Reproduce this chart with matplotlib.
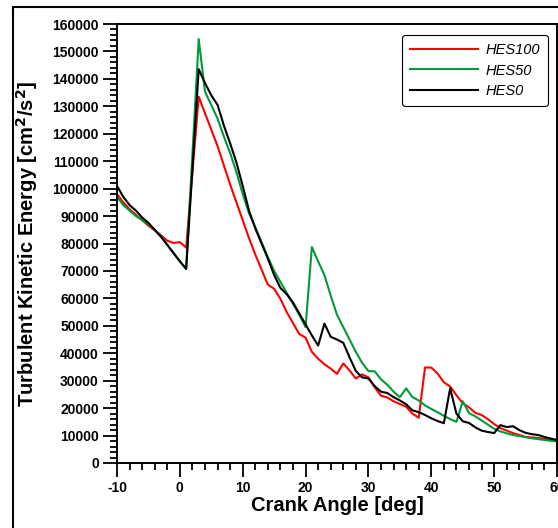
import matplotlib
matplotlib.use("Agg")
import matplotlib.pyplot as plt
from matplotlib.ticker import MultipleLocator
from matplotlib.patches import Rectangle

plt.rcParams['font.family'] = ['Liberation Sans', 'DejaVu Sans']
plt.rcParams['axes.unicode_minus'] = False

angles = [-10, -9, -8, -7, -6, -5, -4, -3, -2, -1, 0, 1,
          3, 4, 5, 6, 7, 8, 9, 10, 11, 12, 13, 14, 15, 16, 17, 18, 19, 20,
          21, 22, 23, 24, 25, 26, 27, 28, 29, 30, 31, 32, 33, 34, 35, 36, 37, 38, 39, 40,
          41, 42, 43, 44, 45, 46, 47, 48, 49, 50, 51, 52, 53, 54, 55, 56, 57, 58, 59, 60]

hes100 = [98000, 95000, 92500, 90500, 88500, 86500, 84800, 83000, 81000, 80200, 80500, 78500,
          133500, 127500, 121500, 115500, 108500, 101500, 95000, 88500, 82000, 76000, 70500, 65000, 63500,
          59800, 55000, 51000, 47000, 45700, 40500, 38000, 36000, 34400, 32500, 36300, 33700, 30800, 32300, 31200,
          27600, 24500, 23900, 22500, 21500, 20500, 18000, 16500, 34800, 34800,
          32600, 29400, 27900, 24700, 21800, 20300, 18300, 17500, 16000, 14200,
          12700, 11800, 10900, 10200, 9500, 9300, 9100, 8800, 8400, 8200]

hes50 = [97000, 94000, 92000, 90000, 88500, 87000, 85000, 82500, 79500, 76500, 73500, 70700,
         154500, 135300, 130500, 125500, 119000, 113000, 106000, 98000, 91000, 86000, 80500, 75000, 70000,
         66000, 62000, 58000, 54000, 49500, 78700, 73500, 68500, 61000, 54000, 49500, 45000, 40500, 36500, 33500,
         33400, 30500, 28500, 26000, 24000, 27200, 24000, 22800, 21000, 19700,
         18500, 17200, 16000, 15000, 22500, 18200, 17000, 15500, 14000, 12500,
         11500, 10800, 10200, 9800, 9400, 9000, 8700, 8400, 8100, 7900]

hes0 = [101000, 97000, 94000, 92000, 89500, 87500, 85000, 82500, 79500, 76500, 73500, 70800,
        143500, 138500, 134000, 130500, 123000, 116500, 109500, 101000, 92000, 85500, 80000, 74500, 68500,
        63800, 61500, 58500, 54500, 50500, 46500, 42800, 50800, 46000, 45000, 43800, 38500, 33500, 31200, 30800,
        28000, 26000, 25500, 24000, 22800, 21400, 19200, 18500, 17500, 16300,
        15300, 14500, 27200, 18000, 15200, 14600, 13000, 11800, 11300, 10900,
        13800, 13100, 13400, 12000, 11000, 10500, 10200, 9500, 8900, 8400]

labels = ['HES100', 'HES50', 'HES0']
colors = ['#ff0000', '#009a3a', '#000000']

fig = plt.figure(figsize=(5.58, 5.28), dpi=100)
ax = fig.add_axes([117/558, 1-463/528, (557-117)/558, (463-24)/528])

for vals, lab, col in zip([hes100, hes50, hes0], labels, colors):
    ax.plot(angles, vals, color=col, lw=1.5, label=lab)

ax.set_xlim(-10, 60)
ax.set_ylim(0, 160000)
ax.xaxis.set_major_locator(MultipleLocator(10))
ax.xaxis.set_minor_locator(MultipleLocator(2))
ax.yaxis.set_major_locator(MultipleLocator(10000))
ax.yaxis.set_minor_locator(MultipleLocator(2000))
ax.tick_params(which='major', direction='out', length=10, width=1.3, labelsize=10, pad=3)
ax.tick_params(which='minor', direction='out', length=5, width=1.3)
for lbl in ax.get_xticklabels() + ax.get_yticklabels():
    lbl.set_fontweight('bold')
for s in ax.spines.values():
    s.set_linewidth(1.4)

ax.set_xlabel('Crank Angle [deg]', fontsize=14.5, fontweight='bold', labelpad=1)
ax.set_ylabel('Turbulent Kinetic Energy [cm$^\\mathbf{2}$/s$^\\mathbf{2}$]', fontsize=14.5,
              fontweight='bold', labelpad=9)

leg = ax.legend(loc='upper right', bbox_to_anchor=(548/558, 1 - 35/528),
                bbox_transform=fig.transFigure, borderaxespad=0, frameon=True,
                prop={'style': 'italic', 'size': 10.5}, handlelength=4.7, fancybox=True,
                borderpad=0.55, labelspacing=0.45, handletextpad=0.5)
leg.get_frame().set_edgecolor('black')
leg.get_frame().set_linewidth(0.8)
leg.get_frame().set_alpha(1)

fig.patches.append(Rectangle((13/558, -0.1), 1.2, (1 - 7/528) + 0.1, transform=fig.transFigure,
                             fill=False, edgecolor='black', linewidth=1.5))

fig.savefig('out.png', dpi=100)
